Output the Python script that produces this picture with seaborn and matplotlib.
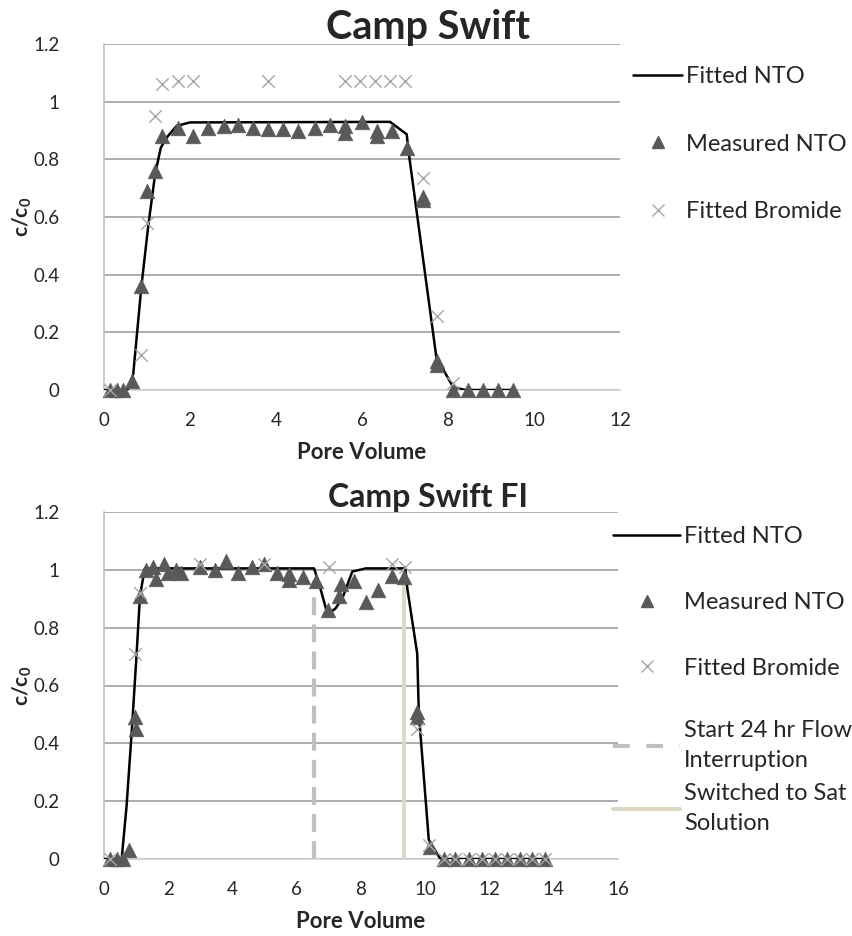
import matplotlib
matplotlib.use("Agg")
import matplotlib.pyplot as plt
import seaborn as sns
from matplotlib.lines import Line2D
from matplotlib.ticker import FuncFormatter

# ---- Camp Swift (top) ----
fit_pv_1 = [0, 0.15, 0.3, 0.45, 0.55, 0.68, 0.87, 1.03, 1.19, 1.32, 1.46, 1.69, 2.0,
            6.65, 7.04, 7.08, 7.73, 8.12, 8.4, 9.52]
fit_c_1 = [0, 0, 0, 0, 0, 0.055, 0.36, 0.57, 0.75, 0.84, 0.876, 0.916, 0.928,
           0.93, 0.887, 0.83, 0.113, 0.01, 0, 0]

meas_pv_1 = [0.15, 0.3, 0.45, 0.65, 0.85, 0.99, 1.19, 1.34, 1.71, 2.08, 2.43, 2.78, 3.12,
             3.47, 3.82, 4.17, 4.52, 4.91, 5.26, 5.6, 5.6, 5.99, 6.34, 6.34, 6.69, 7.04,
             7.41, 7.41, 7.75, 7.75, 8.12, 8.47, 8.82, 9.17, 9.52]
meas_c_1 = [0, 0, 0, 0.03, 0.36, 0.69, 0.76, 0.88, 0.91, 0.88, 0.91, 0.915, 0.92,
            0.91, 0.905, 0.905, 0.9, 0.91, 0.92, 0.915, 0.89, 0.93, 0.9, 0.88, 0.9, 0.84,
            0.67, 0.66, 0.1, 0.085, 0, 0, 0, 0, 0]

brom_pv_1 = [0.15, 0.85, 1.01, 1.19, 1.34, 1.71, 2.08, 3.82, 5.6, 5.95, 6.3, 6.65, 7.0,
             7.41, 7.75, 8.12]
brom_c_1 = [0, 0.12, 0.58, 0.95, 1.06, 1.07, 1.07, 1.07, 1.07, 1.07, 1.07, 1.07, 1.07,
            0.735, 0.255, 0.025]

# ---- Camp Swift FI (bottom) ----
fit_pv_2 = [0, 0.55, 0.7, 0.86, 1.01, 1.12, 1.27, 6.54, 6.75, 6.96, 7.21, 7.42, 7.73,
            8.15, 9.38, 9.44, 9.75, 9.8, 10.11, 10.47, 13.72]
fit_c_2 = [0, 0, 0.18, 0.435, 0.7, 0.91, 1.005, 1.005, 0.93, 0.845, 0.867, 0.902, 0.994,
           1.005, 1.005, 0.937, 0.71, 0.504, 0.066, 0, 0]

meas_pv_2 = [0.19, 0.39, 0.6, 0.78, 0.96, 1.0, 1.12, 1.32, 1.53, 1.63, 1.87, 1.99, 2.25,
             2.41, 2.98, 3.44, 3.8, 4.17, 4.61, 4.99, 5.38, 5.77, 5.77, 6.18, 6.6, 6.96,
             7.32, 7.37, 7.78, 8.15, 8.53, 8.97, 9.33, 9.75, 9.75, 10.16, 10.57, 10.94,
             11.35, 11.76, 12.16, 12.54, 12.95, 13.33, 13.72]
meas_c_2 = [0, 0, 0, 0.03, 0.49, 0.45, 0.91, 1.0, 1.01, 0.97, 1.02, 0.99, 1.0,
            0.99, 1.01, 1.0, 1.03, 0.99, 1.01, 1.02, 0.99, 0.985, 0.965, 0.975, 0.96, 0.86,
            0.91, 0.95, 0.96, 0.89, 0.93, 0.98, 0.975, 0.51, 0.49, 0.04, 0, 0,
            0, 0, 0, 0, 0, 0, 0]

brom_pv_2 = [0.19, 0.96, 1.12, 2.98, 4.99, 7.0, 8.97, 9.38, 9.75, 10.11, 10.57, 10.94,
             11.35, 11.76, 12.16, 12.54, 12.95, 13.33, 13.72]
brom_c_2 = [0, 0.71, 0.92, 1.02, 1.02, 1.01, 1.02, 1.01, 0.45, 0.05, 0, 0,
            0, 0, 0, 0, 0, 0, 0]

interrupt_pv = [6.55, 6.55]
interrupt_c = [0, 0.96]
switch_pv = [9.35, 9.35]
switch_c = [0, 0.995]

sns.set_style("white")
plt.rcParams['font.family'] = ['Lato', 'DejaVu Sans']
plt.rcParams['mathtext.fontset'] = 'custom'
plt.rcParams['mathtext.rm'] = 'Lato:bold'
plt.rcParams['mathtext.default'] = 'rm'

TRI = '#595959'
XCOL = '#A6A6A6'
GRID = '#A0A0A0'
LEG_FS = 17


def style_axes(ax, xmax, title, title_y, title_fs, h_px):
    ax.set_xlim(0, xmax)
    ax.set_ylim(0, 1.2)
    ax.set_xticks(range(0, xmax + 1, 2))
    ax.set_yticks([0, 0.2, 0.4, 0.6, 0.8, 1.0, 1.2])
    ax.yaxis.set_major_formatter(FuncFormatter(lambda v, p: f"{v:g}"))
    ax.yaxis.grid(True, color=GRID, lw=1.2)
    ax.xaxis.grid(False)
    for s in ['top', 'right']:
        ax.spines[s].set_visible(False)
    ax.spines['left'].set_color('#BFBFBF')
    ax.spines['bottom'].set_color('#D0D0D0')
    ax.spines['left'].set_linewidth(1.2)
    ax.spines['bottom'].set_linewidth(1.2)
    ax.tick_params(length=0, labelsize=13.5)
    ax.tick_params(axis='y', pad=32)
    ax.tick_params(axis='x', pad=16)
    ax.set_xlabel('Pore Volume', fontsize=16, fontweight='bold')
    ax.set_ylabel('c/c$_0$', fontsize=15, fontweight='bold')
    ax.xaxis.set_label_coords(0.5, -62 / h_px)
    ax.yaxis.set_label_coords(-82 / 516, 0.5)
    ax.xaxis.label.set_va('center')
    ax.yaxis.label.set_va('center')
    fig.text(0.502, title_y, title, ha='center', va='center', fontsize=title_fs,
             fontweight='bold')


fig = plt.figure(figsize=(8.52, 9.36), dpi=100)
ax1 = fig.add_axes([104 / 852, 1 - 390 / 936, 516 / 852, 346 / 936])
ax2 = fig.add_axes([104 / 852, 1 - 859 / 936, 514 / 852, 347 / 936])

# top chart
sns.lineplot(x=fit_pv_1, y=fit_c_1, ax=ax1, color='black', lw=1.8,
             estimator=None, sort=False, zorder=3)
sns.scatterplot(x=meas_pv_1, y=meas_c_1, ax=ax1, marker='^', s=110, color=TRI,
                edgecolor=TRI, linewidth=0.5, zorder=4, clip_on=False)
sns.scatterplot(x=brom_pv_1, y=brom_c_1, ax=ax1, marker='x', s=80, color=XCOL,
                linewidth=1.0, zorder=5, clip_on=False)
style_axes(ax1, 12, 'Camp Swift', 1 - 27 / 936, 28.5, 346)

h1 = [Line2D([], [], color='black', lw=1.8),
      Line2D([], [], color=TRI, marker='^', ls='none', ms=8),
      Line2D([], [], color=XCOL, marker='x', ls='none', ms=8)]
ax1.legend(h1, ['Fitted NTO', 'Measured NTO', 'Fitted Bromide'], loc='upper left',
           bbox_to_anchor=(633 / 852, 1 - 66 / 936), bbox_transform=fig.transFigure,
           frameon=False, fontsize=LEG_FS, handlelength=2.08, handletextpad=0.17,
           labelspacing=1.98, borderaxespad=0, borderpad=0)

# bottom chart
sns.lineplot(x=interrupt_pv, y=interrupt_c, ax=ax2, color='#BFBFBF', lw=3,
             estimator=None, sort=False, zorder=2)
ax2.lines[-1].set_dashes([4.3, 2.2])
sns.lineplot(x=switch_pv, y=switch_c, ax=ax2, color='#DDD9C3', lw=3,
             estimator=None, sort=False, zorder=2)
sns.lineplot(x=fit_pv_2, y=fit_c_2, ax=ax2, color='black', lw=1.8,
             estimator=None, sort=False, zorder=3)
sns.scatterplot(x=meas_pv_2, y=meas_c_2, ax=ax2, marker='^', s=110, color=TRI,
                edgecolor=TRI, linewidth=0.5, zorder=4, clip_on=False)
sns.scatterplot(x=brom_pv_2, y=brom_c_2, ax=ax2, marker='x', s=80, color=XCOL,
                linewidth=1.0, zorder=5, clip_on=False)
style_axes(ax2, 16, 'Camp Swift FI', 1 - 497 / 936, 23, 347)

leg_a = ax2.legend(h1, ['Fitted NTO', 'Measured NTO', 'Fitted Bromide'], loc='upper left',
                   bbox_to_anchor=(613 / 852, 1 - 526 / 936), bbox_transform=fig.transFigure,
                   frameon=False, fontsize=LEG_FS, handlelength=2.84, handletextpad=0.17,
                   labelspacing=1.9, borderaxespad=0, borderpad=0)
ax2.add_artist(leg_a)
h2 = [Line2D([], [], color='#BFBFBF', lw=3, dashes=[4, 4]),
      Line2D([], [], color='#DDD9C3', lw=3)]
leg_b = ax2.legend(h2, ['Start 24 hr Flow\nInterruption', 'Switched to Sat\nSolution'],
                   loc='upper left', bbox_to_anchor=(613 / 852, 1 - 720 / 936),
                   bbox_transform=fig.transFigure, frameon=False, fontsize=LEG_FS,
                   handlelength=2.84, handletextpad=0.17, labelspacing=0.5,
                   borderaxespad=0, borderpad=0)
for t in leg_b.get_texts():
    t.set_linespacing(1.53)

fig.savefig('out.png', dpi=100)
